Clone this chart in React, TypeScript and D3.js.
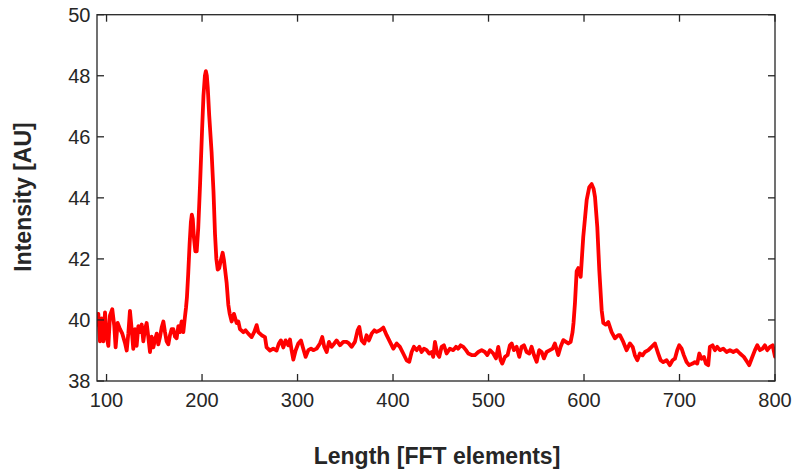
import React from "react";
import * as d3 from "d3";

const lengthFFT: number[] = [
  90, 91.4, 93.1, 94.9, 96.6, 98.4, 100.1, 101.9, 103.6, 106.0, 108.1, 109.5, 111.6, 114.1, 116.5, 119.3, 121.1, 122.8, 124.5, 126.3,
  128.0, 129.8, 131.5, 133.3, 135.0, 136.8, 138.5, 140.3, 142.0, 143.7, 145.5, 147.2, 149.0, 150.7, 152.5, 154.2, 156.0, 157.7, 159.5, 161.2,
  162.9, 164.7, 166.4, 168.2, 169.9, 171.7, 173.4, 175.2, 176.9, 178.6, 180.4, 182.1, 183.2, 184.2, 185.5, 187.0, 188.3, 189.3, 190.3, 191.5,
  193.0, 194.4, 196.0, 198.0, 200.0, 201.5, 203.0, 204.0, 205.0, 206.0, 207.5, 210.0, 212.0, 213.6, 215.0, 216.4, 218.0, 220.0, 221.6, 223.0,
  225.8, 227.5, 229.0, 231.0, 233.4, 236.2, 238.0, 239.7, 243.2, 245.6, 248.4, 251.9, 254.7, 257.2, 258.9, 262.4, 265.9, 267.6, 271.1, 274.6,
  278.1, 280.5, 282.6, 285.1, 287.5, 290.3, 292.1, 293.8, 295.6, 298.0, 300.8, 303.6, 306.0, 308.5, 311.3, 314.1, 316.5, 320.0, 323.5, 325.9,
  328.0, 330.5, 332.9, 335.7, 338.5, 340.9, 344.4, 347.9, 351.4, 353.8, 356.6, 360.1, 362.9, 364.7, 367.1, 369.9, 372.3, 374.8, 377.6, 380.4,
  382.8, 386.3, 388.0, 389.8, 393.3, 396.8, 400.3, 403.8, 407.2, 410.7, 414.2, 417.0, 419.5, 421.9, 424.7, 427.5, 429.9, 432.4, 435.2, 437.9,
  440.4, 442.1, 443.9, 446.3, 448.4, 450.9, 453.3, 456.1, 459.6, 463.1, 465.9, 468.3, 470.8, 473.6, 476.4, 478.8, 482.3, 485.8, 489.3, 492.8,
  496.2, 498.7, 501.5, 505.0, 507.8, 510.2, 512.7, 514.4, 517.2, 520.0, 522.4, 524.2, 526.6, 529.4, 532.2, 534.6, 537.1, 539.9, 542.7, 545.1,
  547.6, 550.4, 553.1, 555.6, 558.0, 560.8, 564.3, 567.1, 569.5, 573.0, 575.5, 578.3, 581.1, 583.5, 586.0, 588.0, 589.0, 590.5, 592.3, 594.0,
  596.5, 599.2, 602.8, 605.5, 608.0, 610.0, 611.5, 613.9, 616.0, 618.5, 620.2, 622.7, 625.4, 628.9, 632.4, 635.9, 637.6, 641.1, 644.6, 648.1,
  650.9, 653.3, 655.8, 658.5, 661.3, 663.8, 667.3, 670.8, 674.2, 677.7, 680.2, 683.0, 686.5, 689.9, 692.7, 695.2, 697.6, 699.7, 702.2, 704.6,
  707.4, 710.2, 713.7, 716.1, 718.6, 720.7, 723.1, 725.6, 727.7, 730.1, 731.8, 734.6, 737.1, 739.5, 742.3, 745.8, 749.3, 752.8, 756.3, 759.8,
  763.3, 767.4, 770.9, 773.0, 775.5, 779.0, 781.4, 784.2, 787.0, 789.4, 791.9, 794.7, 797.5, 800.0,
];

const intensity: number[] = [
  39.85, 40.2, 39.3, 40.05, 39.3, 40.25, 39.45, 39.15, 40.15, 40.35, 39.8, 39.1, 39.9, 39.7, 39.55, 39.25, 39.0, 39.55, 40.3, 39.7,
  39.05, 39.7, 39.15, 39.8, 39.6, 39.85, 39.3, 39.7, 39.9, 39.45, 38.95, 39.45, 39.1, 39.35, 39.55, 39.2, 39.45, 39.75, 39.95, 39.6,
  39.3, 39.2, 39.5, 39.7, 39.7, 39.45, 39.4, 39.8, 39.6, 39.95, 39.6, 40.1, 40.4, 40.75, 41.5, 42.5, 43.2, 43.45, 43.3, 42.7,
  42.25, 42.25, 43.0, 44.5, 46.2, 47.35, 48.0, 48.15, 48.0, 47.6, 46.7, 45.5, 44.2, 42.8, 42.0, 41.65, 41.7, 42.0, 42.2, 41.95,
  41.2, 40.5, 40.2, 39.95, 40.2, 39.9, 39.95, 39.7, 39.6, 39.66, 39.55, 39.44, 39.61, 39.83, 39.6, 39.5, 39.44, 39.1, 39.0, 39.06,
  39.0, 39.23, 39.33, 39.1, 39.33, 39.17, 39.36, 39.0, 38.7, 39.0, 39.23, 39.33, 39.06, 38.79, 39.01, 39.06, 39.01, 39.06, 39.23, 39.44,
  39.12, 38.95, 39.28, 39.12, 39.23, 39.33, 39.17, 39.28, 39.28, 39.23, 39.12, 39.28, 39.66, 39.77, 39.33, 39.23, 39.5, 39.33, 39.55, 39.66,
  39.61, 39.66, 39.7, 39.75, 39.5, 39.28, 39.06, 39.23, 39.12, 38.9, 38.68, 38.63, 38.95, 39.12, 39.01, 39.12, 38.95, 39.06, 39.01, 38.9,
  38.95, 38.79, 39.28, 38.9, 38.79, 39.12, 39.17, 38.9, 39.06, 39.01, 39.12, 39.06, 39.17, 39.12, 39.01, 38.9, 38.85, 38.85, 38.95, 39.01,
  38.95, 38.85, 39.01, 38.9, 38.74, 39.12, 38.68, 38.57, 38.79, 38.85, 39.17, 39.23, 39.01, 39.12, 38.79, 39.12, 39.17, 38.95, 38.9, 39.12,
  38.85, 38.63, 39.01, 38.95, 38.74, 38.95, 39.01, 39.06, 39.23, 38.85, 39.12, 39.34, 39.28, 39.23, 39.28, 39.6, 39.9, 40.54, 41.6, 41.7,
  41.41, 42.72, 43.93, 44.35, 44.45, 44.3, 44.03, 43.05, 41.63, 40.32, 39.9, 39.85, 39.93, 39.6, 39.4, 39.5, 39.5, 39.28, 39.01, 39.23,
  39.12, 38.84, 38.68, 38.9, 38.84, 38.95, 39.01, 39.12, 39.23, 38.9, 38.68, 38.62, 38.68, 38.52, 38.68, 38.73, 39.01, 39.17, 39.06, 38.84,
  38.62, 38.52, 38.57, 38.62, 38.57, 38.9, 38.73, 38.79, 38.57, 38.52, 39.12, 39.17, 39.01, 39.12, 39.01, 39.06, 38.95, 39.01, 38.95, 39.01,
  38.9, 38.79, 38.62, 38.52, 38.73, 39.01, 39.17, 39.01, 39.06, 39.17, 39.01, 39.12, 39.17, 38.8,
];

const xTicks: number[] = [100, 200, 300, 400, 500, 600, 700, 800];
const yTicks: number[] = [38, 40, 42, 44, 46, 48, 50];
const xLabel = "Length [FFT elements]";
const yLabel = "Intensity [AU]";

export default function App() {
  const W = 794, H = 470;
  const left = 97, right = 775, top = 14.7, bottom = 381;
  const x = d3.scaleLinear().domain([90, 800]).range([left, right]);
  const y = d3.scaleLinear().domain([38, 50]).range([bottom, top]);
  const pts: [number, number][] = lengthFFT.map((v, i) => [v, intensity[i]]);
  const line = d3.line<[number, number]>().x(d => x(d[0])).y(d => y(d[1])).curve(d3.curveLinear);
  const axisColor = "#262626";
  const tl = 7;
  const font = "'Liberation Sans', Arial, Helvetica, sans-serif";
  return (
    <svg width={W} height={H} style={{ position: "absolute", left: 0, top: 0, background: "#fff" }}>
      <defs>
        <clipPath id="plotclip">
          <rect x={left} y={top} width={right - left} height={bottom - top} />
        </clipPath>
      </defs>
      <rect x={0} y={0} width={W} height={H} fill="#fff" />
      <path d={line(pts) || ""} fill="none" stroke="#ff0000" strokeWidth={3.8} strokeLinejoin="round" strokeLinecap="round" clipPath="url(#plotclip)" />
      <g stroke={axisColor} strokeWidth={1.3} fill="none">
        <rect x={left} y={top} width={right - left} height={bottom - top} />
        {xTicks.map(t => (
          <g key={"xt" + t}>
            <line x1={x(t)} x2={x(t)} y1={bottom} y2={bottom - tl} />
            <line x1={x(t)} x2={x(t)} y1={top} y2={top + tl} />
          </g>
        ))}
        {yTicks.map(t => (
          <g key={"yt" + t}>
            <line x1={left} x2={left + tl} y1={y(t)} y2={y(t)} />
            <line x1={right} x2={right - tl} y1={y(t)} y2={y(t)} />
          </g>
        ))}
      </g>
      <g fill={axisColor} fontFamily={font} fontSize={20}>
        {xTicks.map(t => (
          <text key={"xl" + t} x={x(t)} y={407} textAnchor="middle">{t}</text>
        ))}
        {yTicks.map(t => (
          <text key={"yl" + t} x={90.5} y={y(t) + 7} textAnchor="end">{t}</text>
        ))}
      </g>
      <text x={437} y={464} textAnchor="middle" fontFamily={font} fontWeight="bold" fontSize={23} fill={axisColor}>{xLabel}</text>
      <text transform={`translate(31,197) rotate(-90)`} textAnchor="middle" fontFamily={font} fontWeight="bold" fontSize={23} fill={axisColor}>{yLabel}</text>
    </svg>
  );
}
